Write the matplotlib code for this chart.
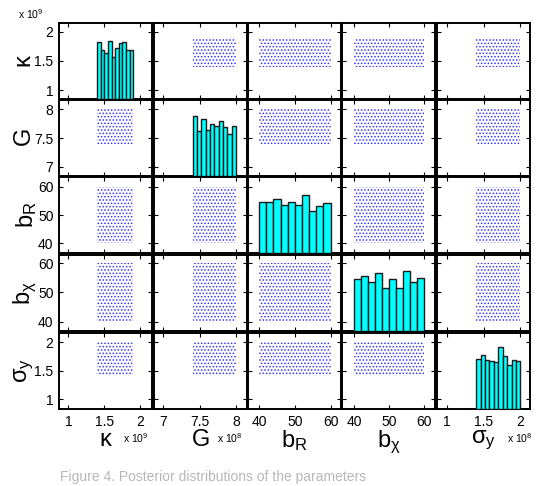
import numpy as np
import matplotlib
matplotlib.use("Agg")
from matplotlib import pyplot as plt
from matplotlib.patches import Rectangle

plt.rcParams['font.family'] = ['Liberation Sans', 'DejaVu Sans']
plt.rcParams['mathtext.fontset'] = 'custom'
plt.rcParams['mathtext.rm'] = 'Liberation Sans'
plt.rcParams['mathtext.it'] = 'Liberation Sans'
plt.rcParams['mathtext.default'] = 'rm'
plt.rcParams['hatch.linewidth'] = 0.7

# variable names (axis labels)
names = [r'$\kappa$', r'$G$', r'$b_R$', r'$b_\chi$', r'$\sigma_y$']

# sample ranges of each parameter (scaled units: x1e9, x1e8, -, -, x1e8)
lo = [1.4, 7.4, 40, 40, 1.4]
hi = [1.9, 8.0, 60, 60, 2.0]

# histogram counts on the diagonal (10 bins each)
hist_kappa = [112, 97, 91, 115, 82, 101, 110, 113, 96, 96]
hist_G = [118, 89, 113, 91, 102, 98, 108, 97, 82, 98]
hist_bR = [100, 100, 106, 95, 100, 95, 115, 83, 93, 98]
hist_bchi = [102, 108, 97, 114, 84, 102, 85, 118, 97, 105]
hist_sigma = [98, 106, 97, 95, 93, 123, 104, 86, 96, 95]
hists = [hist_kappa, hist_G, hist_bR, hist_bchi, hist_sigma]

# ticks and tick labels
ticks = [[1, 1.5, 2], [7, 7.5, 8], [40, 50, 60], [40, 50, 60], [1, 1.5, 2]]
ticklabels = [["1", "1.5", "2"], ["7", "7.5", "8"], ["40", "50", "60"],
              ["40", "50", "60"], ["1", "1.5", "2"]]

# axis limits
xlims = [(0.87, 2.16), (6.87, 8.15), (36.9, 62.9), (36.6, 63.0), (0.87, 2.13)]
ylims = [(0.845, 2.155), (6.84, 8.16), (36.6, 63.4), (36.8, 62.8), (0.83, 2.16)]

W, H = 538, 486
fig = plt.figure(figsize=(W / 100, H / 100), dpi=100)

col_left = [59, 154, 248, 342, 437]
row_top = [23, 100, 177, 255, 333]
pw, ph = 93, 76

n = 5
for r in range(n):
    for c in range(n):
        rect = [col_left[c] / W, 1 - (row_top[r] + ph) / H, pw / W, ph / H]
        ax = fig.add_axes(rect)
        ax.set_xlim(xlims[c])
        ax.set_ylim(ylims[r])
        ax.set_xticks(ticks[c])
        ax.set_yticks(ticks[r])
        ax.tick_params(direction='in', top=True, right=True, length=3,
                       width=0.8, labelsize=10, pad=4)
        if c == 0:
            ax.set_yticklabels(ticklabels[r])
            ax.set_ylabel(names[r], fontsize=17, labelpad=-1)
        else:
            ax.set_yticklabels([])
        if r == n - 1:
            ax.set_xticklabels(ticklabels[c])
            ax.set_xlabel(names[c], fontsize=17, labelpad=0)
        else:
            ax.set_xticklabels([])
        for s in ax.spines.values():
            s.set_linewidth(1.4)

        if r == c:
            hax = fig.add_axes(rect)
            hax.set_xlim(xlims[c])
            hax.set_ylim(0, 150)
            hax.axis('off')
            edges = np.linspace(lo[c], hi[c], len(hists[c]) + 1)
            hax.bar(edges[:-1], hists[c], width=np.diff(edges), align='edge',
                    color='cyan', edgecolor='#1a1a1a', linewidth=1.0)
        else:
            ax.add_patch(Rectangle((lo[c], lo[r]), hi[c] - lo[c], hi[r] - lo[r],
                                   facecolor='none', edgecolor=(0.2, 0.2, 1.0),
                                   hatch='.....', linewidth=0))

# exponent labels
fig.text(18 / W, 1 - 14 / H, r'x 10$^9$', fontsize=7.5, va='center', ha='left')
fig.text(148 / W, 1 - 438 / H, r'x 10$^9$', fontsize=7.5, va='center', ha='right')
fig.text(243 / W, 1 - 438 / H, r'x 10$^8$', fontsize=7.5, va='center', ha='right')
fig.text(533 / W, 1 - 438 / H, r'x 10$^8$', fontsize=7.5, va='center', ha='right')

# caption
fig.text(60 / W, 2 / H, 'Figure 4. Posterior distributions of the parameters',
         fontsize=10, color='#b8b8b8', va='bottom', ha='left')

fig.savefig("out.png", dpi=100)
